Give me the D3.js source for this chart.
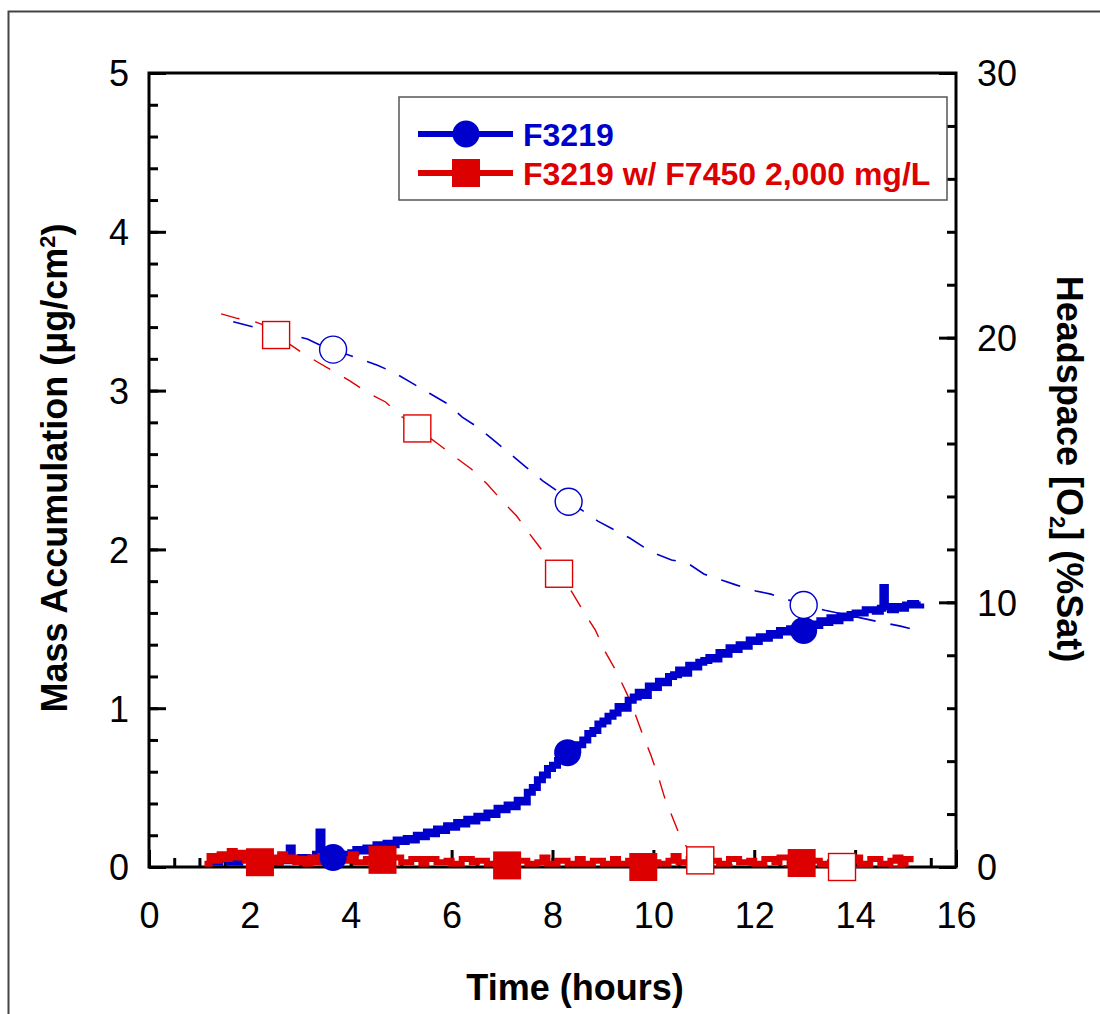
<!DOCTYPE html>
<html>
<head>
<meta charset="utf-8">
<script src="https://cdn.jsdelivr.net/npm/d3@7"></script>
<style>
  body { margin: 0; background: #fff; }
  svg { display: block; }
  text { font-family: Arial, "Liberation Sans", sans-serif; }
</style>
</head>
<body>
<div id="chart"></div>
<script>
// Series names
const seriesNames = ["F3219", "F3219 w/ F7450 2,000 mg/L"];

// Mass accumulation, F3219 (hours, ug/cm2)
const massBlue = [
  [1.2, 0.03], [1.4, 0.05], [1.6, 0.03], [1.8, 0.05], [2.0, 0.03], [2.2, 0.04], [2.4, 0.03],
  [2.6, 0.05], [2.72, 0.04], [2.78, 0.12], [2.84, 0.05], [3.0, 0.06], [3.15, 0.05], [3.3, 0.08],
  [3.37, 0.22], [3.43, 0.07], [3.55, 0.06], [3.7, 0.07], [3.85, 0.08],
  [4.0, 0.09], [4.1, 0.11], [4.2, 0.10], [4.3, 0.12], [4.4, 0.11], [4.5, 0.14], [4.6, 0.13],
  [4.7, 0.15], [4.8, 0.14], [4.9, 0.17], [5.0, 0.16], [5.1, 0.18], [5.2, 0.17], [5.3, 0.2],
  [5.4, 0.19], [5.5, 0.22], [5.6, 0.21], [5.7, 0.24], [5.8, 0.23], [5.9, 0.26], [6.0, 0.25],
  [6.1, 0.28], [6.2, 0.27], [6.3, 0.3], [6.4, 0.29], [6.5, 0.32], [6.6, 0.31], [6.7, 0.34],
  [6.8, 0.33], [6.9, 0.37], [7.0, 0.36], [7.1, 0.39], [7.2, 0.38], [7.3, 0.42], [7.4, 0.41],
  [7.5, 0.47], [7.6, 0.5], [7.7, 0.55], [7.8, 0.58], [7.9, 0.62], [8.0, 0.64], [8.1, 0.67],
  [8.2, 0.69], [8.3, 0.71], [8.4, 0.74], [8.5, 0.77], [8.6, 0.8], [8.7, 0.84], [8.8, 0.86],
  [8.9, 0.9], [9.0, 0.92], [9.1, 0.95], [9.2, 0.97], [9.3, 1.01], [9.4, 1.0], [9.5, 1.05],
  [9.6, 1.07], [9.7, 1.1], [9.8, 1.08], [9.9, 1.14], [10.0, 1.13], [10.1, 1.17], [10.2, 1.16],
  [10.3, 1.2], [10.4, 1.21], [10.5, 1.24], [10.6, 1.22], [10.7, 1.27], [10.8, 1.26], [10.9, 1.29],
  [11.0, 1.3], [11.1, 1.32], [11.2, 1.31], [11.3, 1.35], [11.4, 1.34], [11.5, 1.38], [11.6, 1.37],
  [11.7, 1.4], [11.8, 1.39], [11.9, 1.43], [12.0, 1.42], [12.1, 1.45], [12.2, 1.44], [12.3, 1.47],
  [12.4, 1.46], [12.5, 1.49], [12.6, 1.48], [12.7, 1.5], [12.8, 1.5], [12.9, 1.51], [13.0, 1.5],
  [13.1, 1.53], [13.2, 1.52], [13.3, 1.55], [13.4, 1.54], [13.5, 1.57], [13.6, 1.55], [13.7, 1.58],
  [13.8, 1.57], [13.9, 1.59], [14.0, 1.6], [14.1, 1.6], [14.2, 1.62], [14.3, 1.62], [14.4, 1.61],
  [14.5, 1.63], [14.55, 1.76], [14.6, 1.64], [14.7, 1.62], [14.8, 1.64], [14.9, 1.63], [15.0, 1.65],
  [15.1, 1.66], [15.2, 1.65], [15.3, 1.66]
];

// Mass accumulation, F3219 w/ F7450 (hours, ug/cm2)
const massRed = [
  [1.1, 0.02], [1.2, 0.07], [1.3, 0.04], [1.4, 0.08], [1.5, 0.05], [1.6, 0.1], [1.7, 0.06],
  [1.8, 0.09], [1.9, 0.04], [2.0, 0.07], [2.2, 0.05], [2.4, 0.06], [2.5, 0.03], [2.6, 0.08],
  [2.7, 0.04], [2.8, 0.06], [2.9, 0.03], [3.0, 0.05], [3.1, 0.02], [3.2, 0.06], [3.3, 0.03],
  [3.4, 0.07], [3.5, 0.03], [3.7, 0.05], [3.9, 0.04], [4.0, 0.08], [4.1, 0.03], [4.3, 0.05],
  [4.5, 0.04], [4.7, 0.03], [4.8, 0.06], [5.0, 0.03], [5.2, 0.05], [5.4, 0.02], [5.5, 0.05],
  [5.7, 0.03], [5.9, 0.04], [6.0, 0.02], [6.2, 0.05], [6.4, 0.03], [6.5, 0.04], [6.7, 0.02],
  [6.9, 0.04], [7.1, 0.02], [7.3, 0.04], [7.5, 0.02], [7.7, 0.03], [7.8, 0.06], [7.9, 0.02],
  [8.1, 0.04], [8.3, 0.02], [8.5, 0.05], [8.6, 0.02], [8.8, 0.04], [9.0, 0.02], [9.2, 0.05],
  [9.3, 0.02], [9.5, 0.04], [9.7, 0.02], [9.9, 0.03], [10.1, 0.02], [10.3, 0.04], [10.4, 0.07],
  [10.5, 0.03], [10.7, 0.05], [10.9, 0.02], [11.1, 0.04], [11.3, 0.02], [11.5, 0.05], [11.7, 0.03],
  [11.9, 0.04], [12.0, 0.02], [12.2, 0.05], [12.4, 0.03], [12.5, 0.06], [12.7, 0.03], [12.9, 0.02],
  [13.1, 0.04], [13.3, 0.02], [13.5, 0.03], [13.7, 0.02], [13.9, 0.04], [14.0, 0.06], [14.1, 0.02],
  [14.3, 0.05], [14.5, 0.02], [14.7, 0.04], [14.8, 0.06], [14.9, 0.02], [15.0, 0.05], [15.1, 0.03]
];

// Markers on the mass curves
const massBlueMarks = [[3.65, 0.06], [8.3, 0.72], [12.98, 1.49]];
const massRedMarks = [[2.2, 0.03], [4.63, 0.045], [7.1, 0.01], [9.8, 0.0], [12.94, 0.025]];

// Headspace O2, F3219 (hours, %Sat)
const o2Blue = [
  [1.67, 20.6], [2.08, 20.4], [2.6, 20.2], [3.14, 19.95], [3.41, 19.7], [3.65, 19.55],
  [4.17, 19.2], [4.53, 18.96], [4.88, 18.66], [5.2, 18.3], [5.56, 17.9], [5.92, 17.5],
  [6.21, 17.0], [6.53, 16.6], [6.85, 16.1], [7.17, 15.6], [7.48, 15.1], [7.8, 14.6],
  [8.07, 14.24], [8.32, 13.8], [8.57, 13.5], [8.9, 13.07], [9.23, 12.73], [9.53, 12.43],
  [9.96, 11.9], [10.36, 11.6], [10.68, 11.48], [11.0, 11.07], [11.35, 10.84], [11.65, 10.65],
  [12.03, 10.43], [12.33, 10.31], [12.98, 9.9], [13.4, 9.7], [13.9, 9.5], [14.5, 9.25],
  [14.9, 9.1], [15.3, 8.9]
];
const o2BlueMarks = [[3.65, 19.55], [8.32, 13.8], [12.98, 9.9]];

// Headspace O2, F3219 w/ F7450 (hours, %Sat)
const o2Red = [
  [1.43, 20.9], [1.73, 20.74], [2.1, 20.6], [2.24, 20.5], [2.52, 20.1], [3.02, 19.45],
  [3.34, 19.08], [3.65, 18.74], [3.99, 18.36], [4.35, 17.9], [4.69, 17.57], [5.02, 17.0],
  [5.32, 16.57], [5.72, 16.0], [6.02, 15.56], [6.39, 15.04], [6.69, 14.5], [6.99, 13.86],
  [7.29, 13.26], [7.54, 12.6], [7.94, 11.6], [8.13, 11.08], [8.38, 10.4], [8.6, 9.7],
  [8.85, 8.95], [9.05, 8.12], [9.27, 7.37], [9.47, 6.57], [9.59, 6.04], [9.79, 4.99],
  [9.95, 4.23], [10.1, 3.4], [10.22, 2.64], [10.4, 1.78], [10.52, 1.2], [10.66, 0.75],
  [10.93, 0.25], [11.5, 0.1], [12.5, 0.05], [13.74, 0.0], [15.0, 0.0]
];
const o2RedMarks = [[2.52, 20.1], [5.32, 16.57], [8.13, 11.08], [10.93, 0.25], [13.74, 0.0]];

// Tick labels
const xTicks = [0, 2, 4, 6, 8, 10, 12, 14, 16];
const yLeftTicks = [0, 1, 2, 3, 4, 5];
const yRightTicks = [0, 10, 20, 30];

const blue = "#0000cc";
const red = "#dd0000";

const W = 1100, H = 1014;
const plot = { left: 149, right: 956, top: 73, bottom: 867 };

const svg = d3.select("#chart").append("svg")
  .attr("width", W)
  .attr("height", H);

// outer frame (only left and top edges fall inside the picture)
svg.append("rect")
  .attr("x", 8.5).attr("y", 11.5)
  .attr("width", 1300).attr("height", 1300)
  .attr("fill", "none")
  .attr("stroke", "#444")
  .attr("stroke-width", 2);

// Scales
const x = d3.scaleLinear().domain([0, 16]).range([plot.left, plot.right]);
const yL = d3.scaleLinear().domain([0, 5]).range([plot.bottom, plot.top]);
const yR = d3.scaleLinear().domain([0, 30]).range([plot.bottom, plot.top]);

// Axes: ticks point inward
function styleAxis(g) {
  g.select(".domain").remove();
  g.selectAll(".tick line").attr("stroke", "#000").attr("stroke-width", 3);
  g.selectAll(".tick text")
    .attr("fill", "#000")
    .style("font-size", "36px");
}

// minor ticks
svg.append("g")
  .attr("transform", `translate(0,${plot.bottom})`)
  .call(d3.axisBottom(x).ticks(32).tickSize(-9).tickFormat(""))
  .call(styleAxis);
svg.append("g")
  .attr("transform", `translate(${plot.left},0)`)
  .call(d3.axisLeft(yL).ticks(25).tickSize(-9).tickFormat(""))
  .call(styleAxis);
svg.append("g")
  .attr("transform", `translate(${plot.right},0)`)
  .call(d3.axisRight(yR).ticks(15).tickSize(-9).tickFormat(""))
  .call(styleAxis);

// major ticks with labels
svg.append("g")
  .attr("transform", `translate(0,${plot.bottom})`)
  .call(d3.axisBottom(x).tickValues(xTicks).tickSize(-17).tickPadding(35).tickFormat(d3.format("d")))
  .call(styleAxis);
svg.append("g")
  .attr("transform", `translate(${plot.left},0)`)
  .call(d3.axisLeft(yL).tickValues(yLeftTicks).tickSize(-17).tickPadding(20).tickFormat(d3.format("d")))
  .call(styleAxis)
  .selectAll(".tick text").attr("dy", "0.36em");
svg.append("g")
  .attr("transform", `translate(${plot.right},0)`)
  .call(d3.axisRight(yR).tickValues(yRightTicks).tickSize(-17).tickPadding(21).tickFormat(d3.format("d")))
  .call(styleAxis)
  .selectAll(".tick text").attr("dy", "0.36em");

// plot frame
svg.append("rect")
  .attr("x", plot.left).attr("y", plot.top)
  .attr("width", plot.right - plot.left)
  .attr("height", plot.bottom - plot.top)
  .attr("fill", "none")
  .attr("stroke", "#000")
  .attr("stroke-width", 3);

// Lines
const lineL = d3.line().x(d => x(d[0])).y(d => yL(d[1])).curve(d3.curveStepAfter);
const lineR = d3.line().x(d => x(d[0])).y(d => yR(d[1]));

svg.append("path").datum(o2Blue)
  .attr("fill", "none").attr("stroke", blue).attr("stroke-width", 1.6)
  .attr("stroke-dasharray", "20,15").attr("d", lineR);
svg.append("path").datum(o2Red)
  .attr("fill", "none").attr("stroke", red).attr("stroke-width", 1.4)
  .attr("stroke-dasharray", "19,16").attr("d", lineR);

svg.append("path").datum(massBlue)
  .attr("fill", "none").attr("stroke", blue).attr("stroke-width", 7)
  .attr("d", lineL);
svg.append("path").datum(massRed)
  .attr("fill", "none").attr("stroke", red).attr("stroke-width", 6)
  .attr("d", lineL);

// Markers
const sq = 28, rad = 13.5;

svg.selectAll(".mb").data(massBlueMarks).enter().append("circle")
  .attr("cx", d => x(d[0])).attr("cy", d => yL(d[1])).attr("r", rad)
  .attr("fill", blue);
svg.selectAll(".mr").data(massRedMarks).enter().append("rect")
  .attr("x", d => x(d[0]) - sq / 2).attr("y", d => yL(d[1]) - sq / 2)
  .attr("width", sq).attr("height", sq)
  .attr("fill", red);

svg.selectAll(".ob").data(o2BlueMarks).enter().append("circle")
  .attr("cx", d => x(d[0])).attr("cy", d => yR(d[1])).attr("r", rad)
  .attr("fill", "#fff").attr("stroke", blue).attr("stroke-width", 1.4);
svg.selectAll(".or").data(o2RedMarks).enter().append("rect")
  .attr("x", d => x(d[0]) - sq / 2 + 0.5).attr("y", d => yR(d[1]) - sq / 2 + 0.5)
  .attr("width", sq - 1).attr("height", sq - 1)
  .attr("fill", "#fff").attr("stroke", red).attr("stroke-width", 1.4);

// Legend
const legend = svg.append("g");
legend.append("rect")
  .attr("x", 399).attr("y", 97).attr("width", 548).attr("height", 103)
  .attr("fill", "#fff").attr("stroke", "#555").attr("stroke-width", 1.5);

const legendRows = [
  { name: seriesNames[0], color: blue, y: 134, shape: "circle" },
  { name: seriesNames[1], color: red, y: 173, shape: "square" }
];
legendRows.forEach(r => {
  legend.append("line")
    .attr("x1", 418).attr("x2", 513).attr("y1", r.y).attr("y2", r.y)
    .attr("stroke", r.color).attr("stroke-width", 6);
  if (r.shape === "circle") {
    legend.append("circle").attr("cx", 466).attr("cy", r.y).attr("r", rad).attr("fill", r.color);
  } else {
    legend.append("rect").attr("x", 466 - sq / 2).attr("y", r.y - sq / 2)
      .attr("width", sq).attr("height", sq).attr("fill", r.color);
  }
  legend.append("text")
    .attr("x", 523).attr("y", r.y + 12)
    .attr("fill", r.color)
    .style("font-size", "32px").style("font-weight", "bold")
    .text(r.name);
});

// Axis titles
svg.append("text")
  .attr("x", 575).attr("y", 1000)
  .attr("text-anchor", "middle")
  .style("font-size", "36px").style("font-weight", "bold")
  .text("Time (hours)");

const leftTitle = svg.append("text")
  .attr("transform", "translate(67,468) rotate(-90)")
  .attr("text-anchor", "middle")
  .style("font-size", "36px").style("font-weight", "bold");
leftTitle.append("tspan").text("Mass Accumulation (\u03bcg/cm");
leftTitle.append("tspan").attr("dy", "-0.55em").style("font-size", "22px").text("2");
leftTitle.append("tspan").attr("dy", "0.37em").text(")");

const rightTitle = svg.append("text")
  .attr("transform", "translate(1057,469) rotate(90)")
  .attr("text-anchor", "middle")
  .style("font-size", "36px").style("font-weight", "bold");
rightTitle.append("tspan").text("Headspace [O");
rightTitle.append("tspan").attr("dy", "0.3em").style("font-size", "22px").text("2");
rightTitle.append("tspan").attr("dy", "-0.18em").text("] (%Sat)");
</script>
</body>
</html>
